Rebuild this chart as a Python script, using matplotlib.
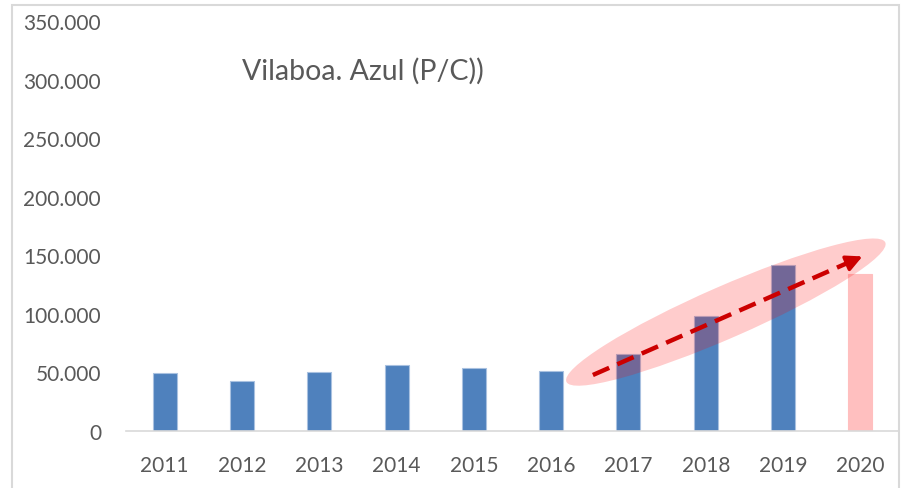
import matplotlib.pyplot as plt
import matplotlib.transforms as mtransforms
from matplotlib.patches import Ellipse, Rectangle
import numpy as np

plt.rcParams['font.family'] = ['Lato', 'DejaVu Sans']

years = ['2011', '2012', '2013', '2014', '2015', '2016', '2017', '2018', '2019', '2020']
values = [49.5, 43.0, 50.3, 56.3, 54.0, 51.0, 65.7, 98.0, 142.0, 134.0]
colors = ['#4F81BD'] * 9 + ['#FFBFBF']
edges = ['#A9C1E0'] * 9 + ['#FFBFBF']
yticks = [0, 50, 100, 150, 200, 250, 300, 350]
ytick_labels = ['0', '50.000', '100.000', '150.000', '200.000', '250.000', '300.000', '350.000']

# trend arrow (start, end) and ellipse centre, in data units
arrow_start = (5.54, 47.8)
arrow_end = (9.06, 150.0)
ellipse_center = (7.26, 101.5)

fig = plt.figure(figsize=(9.12, 4.89), dpi=100)
ax = fig.add_axes([126 / 912, 57 / 489, 773 / 912, 410 / 489])

x = np.arange(len(years))
ax.bar(x, values, width=0.31, color=colors, edgecolor=edges, linewidth=0.8, zorder=2)

ax.set_xlim(-0.5, len(years) - 0.5)
ax.set_ylim(0, 350)
ax.set_xticks(x)
ax.set_xticklabels(years)
ax.set_yticks(yticks)
ax.set_yticklabels(ytick_labels)
ax.tick_params(axis='both', length=0, labelsize=15, colors='#595959')
ax.tick_params(axis='y', pad=18)
ax.tick_params(axis='x', pad=17)

for s in ['top', 'right', 'left']:
    ax.spines[s].set_visible(False)
ax.spines['bottom'].set_color('#D9D9D9')
ax.spines['bottom'].set_linewidth(1.2)

# highlight ellipse (size in inches, placed at a data point)
tr = fig.dpi_scale_trans + mtransforms.ScaledTranslation(ellipse_center[0], ellipse_center[1], ax.transData)
ell = Ellipse((0, 0), 3.48, 0.52, angle=23.6, transform=tr, facecolor='red', alpha=0.2,
              edgecolor='none', zorder=3)
ax.add_patch(ell)

# dashed trend arrow
fx = arrow_start[0] + 0.93 * (arrow_end[0] - arrow_start[0])
fy = arrow_start[1] + 0.93 * (arrow_end[1] - arrow_start[1])
ax.plot([arrow_start[0], fx], [arrow_start[1], fy], color='#CC0000', lw=3.2,
        linestyle=(0, (4, 2)), solid_capstyle='butt', zorder=4)
ax.annotate('', xy=arrow_end, xytext=(fx, fy),
            arrowprops=dict(arrowstyle='-|>', color='#CC0000', lw=2.5, mutation_scale=24),
            zorder=4)

ax.text(1.0, 308, 'Vilaboa. Azul (P/C))', fontsize=20.5, color='#595959',
        va='center', ha='left')

# chart border
fig.patches.append(Rectangle((12 / 912, -0.05), 887 / 912, 1.05 - 6 / 489, transform=fig.transFigure,
                             fill=False, edgecolor='#D9D9D9', linewidth=1.5))

fig.savefig('out.png', dpi=100)
